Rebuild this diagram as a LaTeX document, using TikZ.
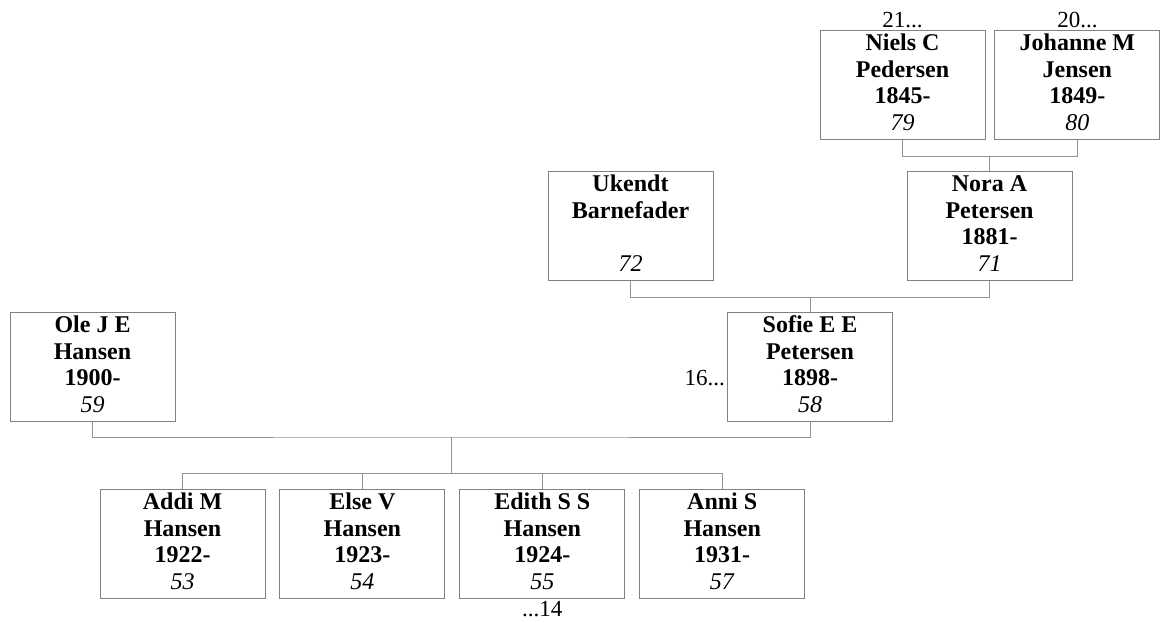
\documentclass[tikz,border=0pt]{standalone}
\usepackage{fontspec}
\setmainfont{Liberation Serif}
\usepackage{tikz}
\usetikzlibrary{positioning}

\newcommand{\pers}[4]{\textbf{#1}\strut\\\textbf{#2}\strut\\\textbf{#3}\strut\\\textit{#4}\strut}

\begin{document}
\begin{tikzpicture}[x=1pt,y=-1pt]
\tikzstyle{person}=[draw=gray,line width=0.9pt,rectangle,minimum width=165pt,minimum height=109pt,
  align=center,inner sep=0pt,font=\fontsize{24}{26.5}\selectfont]
\tikzstyle{link}=[draw=gray!85,line width=0.8pt]
\tikzstyle{more}=[font=\fontsize{23}{25}\selectfont,inner sep=1pt]
\useasboundingbox (0,0) rectangle (1166,623);
% great-grandparents
\node [person] at (902.5,85) (niels) {\pers{Niels C}{Pedersen}{1845-}{79}};
\node [person,right=9pt of niels] (johanne) {\pers{Johanne M}{Jensen}{1849-}{80}};
% grandparents
\node [person] at (630.5,226) (ukendt) {\pers{Ukendt}{Barnefader}{}{72}};
\node [person] at (989.5,226) (nora) {\pers{Nora A}{Petersen}{1881-}{71}};
% parents
\node [person] at (92.5,367) (ole) {\pers{Ole J E}{Hansen}{1900-}{59}};
\node [person] at (810,367) (sofie) {\pers{Sofie E E}{Petersen}{1898-}{58}};
% children
\node [person] at (182.5,544) (addi) {\pers{Addi M}{Hansen}{1922-}{53}};
\node [person,right=14pt of addi] (else) {\pers{Else V}{Hansen}{1923-}{54}};
\node [person,right=14pt of else] (edith) {\pers{Edith S S}{Hansen}{1924-}{55}};
\node [person,right=14pt of edith] (anni) {\pers{Anni S}{Hansen}{1931-}{57}};
% continuation marks
\node [more,above=1pt of niels] (up21) {21...};
\node [more,above=1pt of johanne] (up20) {20...};
\node [more,left=1pt of sofie.west,yshift=-11pt] (up16) {16...};
\node [more,below=1pt of edith] (down14) {...14};
% lines
\coordinate (fam) at (451,437);
\coordinate (kids) at (451,473);
\path[link]
    (niels.south) -- ++(0,16) -| (nora.north)
    (johanne.south) -- ++(0,16) -| (nora.north)
    (ukendt.south) -- ++(0,16) -| (sofie.north)
    (nora.south) -- ++(0,16) -| (sofie.north)
    (ole.south) |- (fam) -| (sofie.south)
    (fam) -- (kids)
    (kids) -| (addi.north)
    (kids) -| (else.north)
    (kids) -| (edith.north)
    (kids) -| (anni.north);
\end{tikzpicture}
\end{document}
